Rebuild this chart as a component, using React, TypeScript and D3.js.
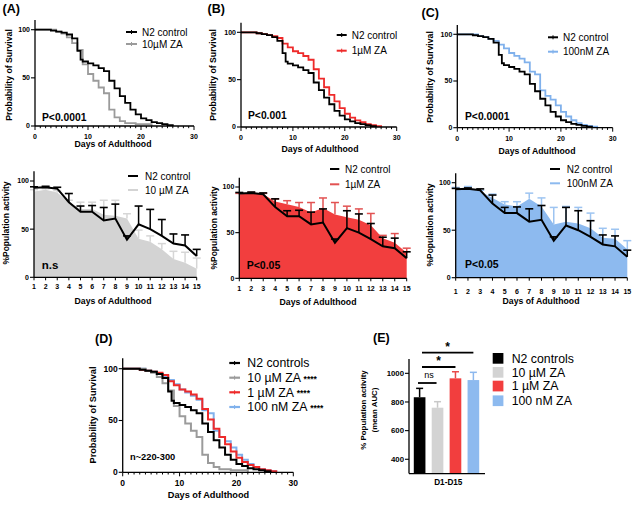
import React from 'react';
import * as d3 from 'd3';

const FONT = "'Liberation Sans', Arial, Helvetica, sans-serif";

// ---------- Survival data (Kaplan-Meier steps) ----------
const n2Days = [0, 3, 4, 5, 6, 7, 8, 8.6, 9, 10, 11, 12, 13, 14, 15, 16, 17, 18, 19, 20, 21, 22, 23, 24, 25, 26];
const n2Surv = [100, 99, 98, 97, 95, 91, 78, 69, 67, 65, 63, 60, 57, 47, 39, 31, 24, 17, 12, 8, 6, 4, 3, 2, 1, 0];
const za10Days = [0, 4, 5, 6, 7, 8, 9, 10, 11, 12, 13, 14, 15, 16, 17, 19, 22];
const za10Surv = [100, 98, 96, 92, 86, 79, 64, 54, 47, 40, 34, 17, 9, 5, 3, 2, 0];
const za1Days = [0, 3, 4, 5, 6, 7, 8, 9, 10, 11, 12, 13, 14, 15, 16, 17, 18, 19, 20, 21, 22, 23, 24, 25, 26, 27];
const za1Surv = [100, 99, 98, 97, 96, 94, 88, 84, 80, 78, 75, 71, 61, 51, 42, 34, 27, 20, 14, 10, 7, 5, 3, 2, 1, 0];
const nm100Days = [0, 4, 5, 6, 7, 8, 9, 10, 11, 12, 13, 14, 15, 16, 17, 18, 19, 20, 21, 22, 23, 24, 25, 26, 27];
const nm100Surv = [100, 98, 97, 95, 93, 89, 85, 80, 77, 74, 70, 60, 57, 40, 34, 30, 24, 17, 12, 8, 5, 3, 2, 1, 0];
const survXTicks = [0, 10, 20, 30];
const survYTicks = [0, 50, 100];

// ---------- Population activity data ----------
const actDays = [1, 2, 3, 4, 5, 6, 7, 8, 9, 10, 11, 12, 13, 14, 15];
const n2Act = [93, 93.5, 92, 78, 68, 68, 59, 61, 39, 55, 50, 43, 35, 33, 22];
const n2Err = [94, 94.5, 93.5, 87, 74, 74.5, 72.5, 76, 43, 74, 70.5, 60, 45, 44, 29];
const za10Act = [89, 91, 88, 78, 71, 71, 65, 64, 61, 40, 37, 29, 19, 15, 9];
const za10Err = [91, 92, 90, 80, 78, 78, 80, 80, 66, 49, 43, 35, 27, 26, 20];
const za1Act = [92, 93, 92, 84, 81, 78, 72, 77, 70, 67, 64, 58, 44, 39, 28];
const za1Err = [93, 94, 93, 87, 85, 83, 83, 88, 83, 79, 76, 71, 47, 49, 33];
const nm100Act = [94, 95, 91, 84, 77, 75, 83, 75, 56, 59, 57, 52, 42, 41, 30];
const nm100Err = [95, 96, 92, 88, 80, 80, 89, 84, 74, 75, 74, 68, 52, 51, 39];
const actYTicks = [0, 50, 100];

// ---------- AUC data ----------
const aucGroups = ['N2 controls', '10 µM ZA', '1 µM ZA', '100 nM ZA'];
const aucMean = [833, 760, 965, 953];
const aucErr = [895, 802, 1011, 1007];
const aucYTicks = [400, 600, 800, 1000];

const C_BLACK = '#000000';
const C_GRAY_LINE = '#9b9b9b';
const C_RED = '#ee2a2a';
const C_BLUE = '#80b1ec';
const C_GRAY_FILL = '#d3d3d3';
const C_RED_FILL = '#f23e3e';
const C_BLUE_FILL = '#8dbaef';

type Surv = { days: number[]; vals: number[]; color: string; w: number };

function Label({ x, y, text, size, weight = 'bold', anchor = 'start', rotate = false, fill = '#000' }: any) {
  if (rotate) {
    return (
      <text transform={`translate(${x},${y}) rotate(-90)`} textAnchor="middle" dy="0.35em"
        fontFamily={FONT} fontSize={size} fontWeight={weight} fill={fill}>{text}</text>
    );
  }
  return (
    <text x={x} y={y} dy="0.35em" textAnchor={anchor} fontFamily={FONT} fontSize={size} fontWeight={weight} fill={fill}>{text}</text>
  );
}

function SurvivalPanel({ cfg }: any) {
  const x = d3.scaleLinear().domain([0, 30]).range([cfg.x0, cfg.x1]);
  const y = d3.scaleLinear().domain([0, 100]).range([cfg.y0, cfg.y1]);
  const line = d3.line<[number, number]>().x(d => x(d[0])).y(d => y(d[1])).curve(d3.curveStepAfter);
  const minor = d3.range(0, 31, 1);
  const tf = cfg.tickFont || 7;
  return (
    <g>
      {cfg.series.map((s: Surv, i: number) => (
        <path key={i} d={line(s.days.map((d, j) => [d, s.vals[j]] as [number, number])) || ''}
          fill="none" stroke={s.color} strokeWidth={s.w} />
      ))}
      <line x1={x(0)} x2={x(30)} y1={y(0)} y2={y(0)} stroke="#000" strokeWidth={1.3} />
      <line x1={x(0)} x2={x(0)} y1={y(0)} y2={y(110)} stroke="#000" strokeWidth={1.3} />
      {minor.map(t => (
        <line key={'m' + t} x1={x(t)} x2={x(t)} y1={y(0)} y2={y(0) + (t % 10 === 0 ? 4 : 2.2)} stroke="#000" strokeWidth={1} />
      ))}
      {survXTicks.map(t => (
        <Label key={'xt' + t} x={x(t)} y={y(0) + cfg.xTickDy} text={String(t)} size={tf} anchor="middle" />
      ))}
      {survYTicks.map(t => (
        <g key={'yt' + t}>
          <line x1={x(0) - 4} x2={x(0)} y1={y(t)} y2={y(t)} stroke="#000" strokeWidth={1.1} />
          <Label x={x(0) - 5} y={y(t)} text={String(t)} size={tf} anchor="end" />
        </g>
      ))}
      <Label x={cfg.yl[0]} y={cfg.yl[1]} text="Probability of Survival" size={cfg.axFont || 8.7} rotate />
      <Label x={cfg.xl[0]} y={cfg.xl[1]} text="Days of Adulthood" size={cfg.axFont || 8.7} anchor="middle" />
      {cfg.note && <Label x={cfg.note[0]} y={cfg.note[1]} text={cfg.note[2]} size={cfg.noteFont || 10.3} weight="bold" />}
      {cfg.panel && <Label x={cfg.panel[0]} y={cfg.panel[1]} text={cfg.panel[2]} size={12.5} />}
    </g>
  );
}

function ActivityPanel({ cfg }: any) {
  const x = d3.scaleLinear().domain([1, 15]).range([cfg.x0, cfg.x1]);
  const y = d3.scaleLinear().domain([0, 100]).range([cfg.y0, cfg.y1]);
  const area = d3.area<number>().x((_, i) => x(actDays[i])).y0(y(0)).y1(d => y(d));
  const line = d3.line<number>().x((_, i) => x(actDays[i])).y(d => y(d));
  const cap = 4;
  return (
    <g>
      <path d={area(cfg.trAct) || ''} fill={cfg.fill} />
      {actDays.map((d, i) => (
        <g key={'te' + d}>
          <line x1={x(d)} x2={x(d)} y1={y(cfg.trAct[i])} y2={y(cfg.trErr[i])} stroke={cfg.errColor} strokeWidth={1.5} />
          <line x1={x(d) - cap} x2={x(d) + cap} y1={y(cfg.trErr[i])} y2={y(cfg.trErr[i])} stroke={cfg.errColor} strokeWidth={1.5} />
        </g>
      ))}
      {actDays.map((d, i) => (
        <g key={'ne' + d}>
          <line x1={x(d)} x2={x(d)} y1={y(n2Act[i])} y2={y(n2Err[i])} stroke="#000" strokeWidth={1.5} />
          <line x1={x(d) - cap} x2={x(d) + cap} y1={y(n2Err[i])} y2={y(n2Err[i])} stroke="#000" strokeWidth={1.6} />
        </g>
      ))}
      <path d={line(n2Act) || ''} fill="none" stroke="#000" strokeWidth={2} />
      <line x1={x(1)} x2={x(15)} y1={y(0)} y2={y(0)} stroke="#000" strokeWidth={1.3} />
      <line x1={x(1)} x2={x(1)} y1={y(0)} y2={y(110)} stroke="#000" strokeWidth={1.3} />
      {actDays.map(d => (
        <g key={'xt' + d}>
          <line x1={x(d)} x2={x(d)} y1={y(0)} y2={y(0) + 3} stroke="#000" strokeWidth={1} />
          <Label x={x(d)} y={y(0) + cfg.xTickDy} text={String(d)} size={7} anchor="middle" />
        </g>
      ))}
      {actYTicks.map(t => (
        <g key={'yt' + t}>
          <line x1={x(1) - 4} x2={x(1)} y1={y(t)} y2={y(t)} stroke="#000" strokeWidth={1.1} />
          <Label x={x(1) - 5} y={y(t)} text={String(t)} size={7} anchor="end" />
        </g>
      ))}
      <Label x={cfg.yl[0]} y={cfg.yl[1]} text="%Population activity" size={8.5} rotate />
      <Label x={cfg.xl[0]} y={cfg.xl[1]} text="Days of Adulthood" size={8.7} anchor="middle" />
      <Label x={cfg.note[0]} y={cfg.note[1]} text={cfg.note[2]} size={cfg.noteSize} weight="bold" />
      <line x1={cfg.lg[0]} x2={cfg.lg[1]} y1={cfg.lg[2]} y2={cfg.lg[2]} stroke="#000" strokeWidth={2} />
      <line x1={cfg.lg[0]} x2={cfg.lg[1]} y1={cfg.lg[3]} y2={cfg.lg[3]} stroke={cfg.legColor} strokeWidth={2} />
      <Label x={cfg.lg[4]} y={cfg.lg[2]} text="N2 control" size={10} weight="normal" />
      <Label x={cfg.lg[4]} y={cfg.lg[3]} text={cfg.legText} size={10} weight="normal" />
    </g>
  );
}

function TopLegend({ x1, x2, ys, tx, items }: any) {
  return (
    <g>
      {items.map((it: any, i: number) => (
        <g key={i}>
          <line x1={x1} x2={x2} y1={ys[i]} y2={ys[i]} stroke={it.color} strokeWidth={2} />
          <line x1={(x1 + x2) / 2} x2={(x1 + x2) / 2} y1={ys[i] - 2} y2={ys[i] + 2} stroke={it.color} strokeWidth={1} />
          <Label x={tx} y={ys[i]} text={it.text} size={10} weight="normal" />
        </g>
      ))}
    </g>
  );
}

function AucPanel() {
  const x = d3.scaleBand<string>().domain(aucGroups).range([412, 481]).paddingInner(0.35).paddingOuter(0.1);
  const y = d3.scaleLinear().domain([300, 1100]).range([473.6, 359]);
  const colors = [C_BLACK, C_GRAY_FILL, C_RED_FILL, C_BLUE_FILL];
  const errColors = ['#000', '#c8c8c8', '#e84a4a', '#8cb8ee'];
  const bw = x.bandwidth();
  const cx = (g: string) => (x(g) as number) + bw / 2;
  const sig = [
    { a: 0, b: 3, y: 352.7, t: '*', ty: 347 },
    { a: 0, b: 2, y: 367, t: '*', ty: 360.5 },
    { a: 0, b: 1, y: 383, t: 'ns', ty: 375 },
  ];
  const legYs = [358.3, 372.3, 386, 400.7];
  return (
    <g>
      {aucGroups.map((g, i) => (
        <g key={g}>
          <rect x={x(g)} y={y(aucMean[i])} width={bw} height={y(300) - y(aucMean[i])} fill={colors[i]} />
          <line x1={cx(g)} x2={cx(g)} y1={y(aucMean[i])} y2={y(aucErr[i])} stroke={errColors[i]} strokeWidth={1.5} />
          <line x1={cx(g) - 3.5} x2={cx(g) + 3.5} y1={y(aucErr[i])} y2={y(aucErr[i])} stroke={errColors[i]} strokeWidth={1.5} />
        </g>
      ))}
      <line x1={409} x2={485} y1={y(300)} y2={y(300)} stroke="#000" strokeWidth={1.3} />
      <line x1={409} x2={409} y1={y(300)} y2={y(1100)} stroke="#000" strokeWidth={1.3} />
      {aucYTicks.map(t => (
        <g key={t}>
          <line x1={405} x2={409} y1={y(t)} y2={y(t)} stroke="#000" strokeWidth={1.1} />
          <Label x={404} y={y(t)} text={String(t)} size={7.8} anchor="end" />
        </g>
      ))}
      <Label x={448.3} y={482} text="D1-D15" size={8.2} anchor="middle" />
      {sig.map((s, i) => {
        const xa = cx(aucGroups[s.a]) - 2;
        const xb = cx(aucGroups[s.b]) + (s.t === 'ns' ? -1 : 0);
        return (
          <g key={i}>
            <line x1={s.t === 'ns' ? 418 : 422} x2={xb} y1={s.y} y2={s.y} stroke="#000" strokeWidth={1.8} />
            <Label x={s.t === 'ns' ? 429 : (xa + xb) / 2 + 2} y={s.ty} text={s.t} size={s.t === 'ns' ? 9 : 12} weight={s.t === 'ns' ? 'normal' : 'bold'} anchor="middle" />
          </g>
        );
      })}
      <Label x={363.3} y={410} text="% Population activity" size={7.9} rotate />
      <Label x={374.3} y={410} text="(mean AUC)" size={7.9} rotate />
      <Label x={373} y={338} text="(E)" size={12.5} />
      {aucGroups.map((g, i) => (
        <g key={'lg' + g}>
          <rect x={492.7} y={legYs[i] - 5.3} width={10.7} height={10.7} fill={colors[i]} />
          <Label x={511.7} y={legYs[i]} text={g} size={12.3} weight="normal" />
        </g>
      ))}
    </g>
  );
}

function DLegend() {
  const ys = [363, 377.7, 392.3, 407];
  const items = [
    { c: C_BLACK, t: 'N2 controls', s: '' },
    { c: C_GRAY_LINE, t: '10 µM ZA ', s: '****' },
    { c: C_RED, t: '1 µM ZA ', s: '****' },
    { c: C_BLUE, t: '100 nM ZA ', s: '****' },
  ];
  return (
    <g>
      {items.map((it, i) => (
        <g key={i}>
          <line x1={229.3} x2={240} y1={ys[i]} y2={ys[i]} stroke={it.c} strokeWidth={2.2} />
          <line x1={234.6} x2={234.6} y1={ys[i] - 2} y2={ys[i] + 2} stroke={it.c} strokeWidth={1} />
          <text x={247.3} y={ys[i]} dy="0.35em" fontFamily={FONT} fontSize={12.3}>
            {it.t}
            {it.s && <tspan fontSize={8.5} fontWeight="bold" dy="-0.5">{it.s}</tspan>}
          </text>
        </g>
      ))}
    </g>
  );
}

export default function App() {
  const sN2: Surv = { days: n2Days, vals: n2Surv, color: C_BLACK, w: 1.8 };
  const s10: Surv = { days: za10Days, vals: za10Surv, color: C_GRAY_LINE, w: 1.8 };
  const s1: Surv = { days: za1Days, vals: za1Surv, color: C_RED, w: 1.8 };
  const s100: Surv = { days: nm100Days, vals: nm100Surv, color: C_BLUE, w: 1.8 };

  const topA = { x0: 35, x1: 194, y0: 126, y1: 29.7, xTickDy: 11, yl: [9, 75], xl: [113, 144], note: [42, 117, 'P<0.0001'], panel: [2.5, 9, '(A)'], series: [s10, sN2] };
  const topB = { x0: 241, x1: 396.7, y0: 127, y1: 32.3, xTickDy: 10.5, yl: [213, 75], xl: [320, 149], note: [248, 115.7, 'P<0.001'], panel: [207.5, 8.5, '(B)'], series: [s1, sN2] };
  const topC = { x0: 457.3, x1: 612.7, y0: 127.7, y1: 34.3, xTickDy: 10.6, yl: [430, 77], xl: [537, 151], note: [465, 116.7, 'P<0.0001'], panel: [421.5, 12.5, '(C)'], series: [s100, sN2] };
  const panelD = { x0: 122.7, x1: 293.3, y0: 472.3, y1: 368.7, xTickDy: 11, yl: [93, 415], xl: [208.5, 495], note: [130, 456.7, 'n~220-300'], noteFont: 9.3, panel: [95, 339, '(D)'], tickFont: 8.5, axFont: 9.2, series: [{ ...s100, w: 2 }, { ...s1, w: 2 }, { ...s10, w: 2 }, { ...sN2, w: 2 }] };

  const botA = { x0: 34, x1: 196.7, y0: 277.3, y1: 181, xTickDy: 9.4, yl: [6, 223], xl: [113, 300.7], note: [41.7, 265, 'n.s'], noteSize: 11.5, trAct: za10Act, trErr: za10Err, fill: C_GRAY_FILL, errColor: '#d6d6d6', legColor: '#d4d4d4', legText: '10 µM ZA', lg: [128, 138, 176, 190, 145] };
  const botB = { x0: 239.3, x1: 406.7, y0: 278.3, y1: 187, xTickDy: 10.7, yl: [214, 228], xl: [318, 301.7], note: [246.7, 265, 'P<0.05'], noteSize: 10.5, trAct: za1Act, trErr: za1Err, fill: C_RED_FILL, errColor: '#e25252', legColor: '#e25252', legText: '1µM ZA', lg: [330, 339.3, 169, 184.3, 345] };
  const botC = { x0: 455.7, x1: 627.3, y0: 277.7, y1: 182.7, xTickDy: 14, yl: [430, 225], xl: [541, 301], note: [465, 264.3, 'P<0.05'], noteSize: 10.5, trAct: nm100Act, trErr: nm100Err, fill: C_BLUE_FILL, errColor: '#9dc4f1', legColor: '#8dbaef', legText: '100nM ZA', lg: [550, 560, 169, 183.3, 566.7] };

  return (
    <svg width={634} height={505} viewBox="0 0 634 505" style={{ position: 'absolute', left: 0, top: 0, background: '#fff' }}>
      <rect x={0} y={0} width={634} height={505} fill="#fff" />
      <SurvivalPanel cfg={topA} />
      <TopLegend x1={126} x2={137} ys={[32, 44]} tx={142} items={[{ color: C_BLACK, text: 'N2 control' }, { color: C_GRAY_LINE, text: '10µM ZA' }]} />
      <SurvivalPanel cfg={topB} />
      <TopLegend x1={336.7} x2={346.7} ys={[35, 50.7]} tx={351.7} items={[{ color: C_BLACK, text: 'N2 control' }, { color: C_RED, text: '1µM ZA' }]} />
      <SurvivalPanel cfg={topC} />
      <TopLegend x1={548} x2={558} ys={[37.3, 51.7]} tx={563} items={[{ color: C_BLACK, text: 'N2 control' }, { color: C_BLUE, text: '100nM ZA' }]} />
      <ActivityPanel cfg={botA} />
      <ActivityPanel cfg={botB} />
      <ActivityPanel cfg={botC} />
      <SurvivalPanel cfg={panelD} />
      <DLegend />
      <AucPanel />
    </svg>
  );
}
